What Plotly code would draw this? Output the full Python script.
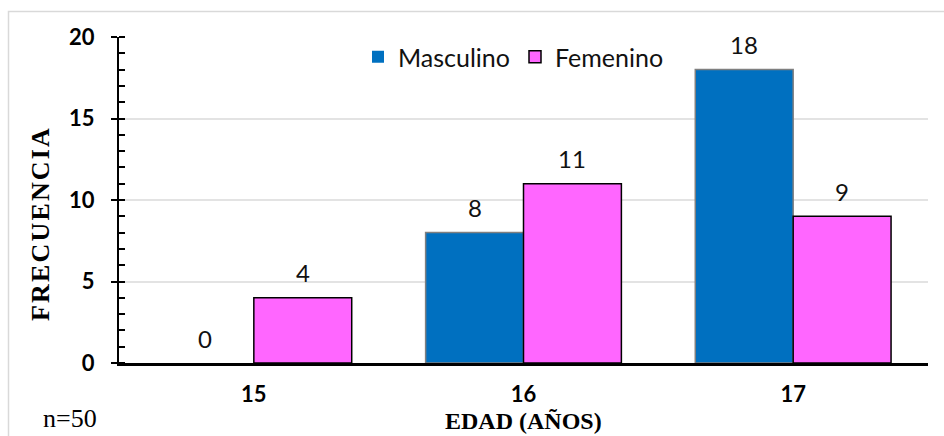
import plotly.graph_objects as go

# Frecuencia por edad y sexo
edades = ["15", "16", "17"]
masculino = [0, 8, 18]
femenino = [4, 11, 9]
y_ticks = [0, 5, 10, 15, 20]

W, H = 944, 436
L, R, T, B = 119, 16, 37, 73
pw, ph = W - L - R, H - T - B


def px_x(px):
    return (px - L) / pw


def px_y(py):
    return 1 - (py - T) / ph


def borde(serie, w):
    # sin contorno en barras de altura cero
    return [0 if v == 0 else w for v in serie]


fig = go.Figure()
fig.add_trace(go.Bar(
    x=edades, y=masculino, name="Masculino",
    marker=dict(color="#0070C0",
                line=dict(color="#7F7F7F", width=borde(masculino, 1.5))),
))
fig.add_trace(go.Bar(
    x=edades, y=femenino, name="Femenino",
    marker=dict(color="#FF66FF",
                line=dict(color="#000000", width=borde(femenino, 1.5))),
))

annotations = []
# etiquetas de valor sobre cada barra
for serie, off in ((masculino, -0.5), (femenino, 0.5)):
    for i, v in enumerate(serie):
        annotations.append(dict(
            x=i + off * 0.363, y=v, xref="x", yref="y", text=str(v),
            showarrow=False, yshift=25, xanchor="center", yanchor="middle",
            font=dict(family="Lato", size=24, color="#111111"),
        ))

sp = "\u200A"
annotations += [
    dict(x=px_x(40), y=px_y(225), xref="paper", yref="paper",
         xanchor="center", yanchor="middle",
         text="<b>" + sp.join("FRECUENCIA") + "</b>", textangle=-90,
         showarrow=False,
         font=dict(family="Liberation Serif", size=26, color="#000000")),
    dict(x=0.5, y=px_y(421), xref="paper", yref="paper",
         xanchor="center", yanchor="middle",
         text="<b>EDAD (AÑOS)</b>", showarrow=False, borderpad=0,
         font=dict(family="Liberation Serif", size=24, color="#000000")),
    dict(x=px_x(70), y=px_y(419), xref="paper", yref="paper",
         xanchor="center", yanchor="middle",
         text="n=50", showarrow=False, borderpad=0,
         font=dict(family="Liberation Serif", size=26, color="#000000")),
]

fig.update_layout(
    width=W, height=H,
    margin=dict(l=L, r=R, t=T, b=B),
    paper_bgcolor="white", plot_bgcolor="white",
    barmode="group", bargap=0.274, bargroupgap=0,
    showlegend=True,
    legend=dict(
        orientation="h", x=px_x(358), y=px_y(34), xanchor="left", yanchor="top",
        bgcolor="rgba(0,0,0,0)", font=dict(family="Lato", size=25, color="#111111"),
        traceorder="normal", itemwidth=30,
    ),
    annotations=annotations,
    shapes=[dict(
        type="rect", xref="paper", yref="paper",
        x0=px_x(8.5), x1=px_x(960), y0=px_y(460), y1=px_y(11.5),
        line=dict(color="#D9D9D9", width=1.5), fillcolor="rgba(0,0,0,0)",
        layer="below",
    )],
)

fig.update_xaxes(
    type="category", showgrid=False, ticks="",
    showline=True, linecolor="#000000", linewidth=3,
    tickfont=dict(family="Lato", size=22, color="#000000", weight="bold"),
    ticklabelstandoff=10,
)
fig.update_yaxes(
    range=[0, 20], tickvals=y_ticks, ticktext=[str(v) for v in y_ticks],
    showgrid=True, gridcolor="#E3E3E3", gridwidth=1.5,
    showline=True, linecolor="#000000", linewidth=2,
    ticks="outside", ticklen=6, tickcolor="#000000", tickwidth=2,
    minor=dict(dtick=1, ticks="inside", ticklen=6, tickcolor="#000000",
               tickwidth=1.5, showgrid=False),
    tickfont=dict(family="Lato", size=22, color="#000000", weight="bold"),
    ticklabelstandoff=12, zeroline=False,
)

fig.write_html("out.html")
